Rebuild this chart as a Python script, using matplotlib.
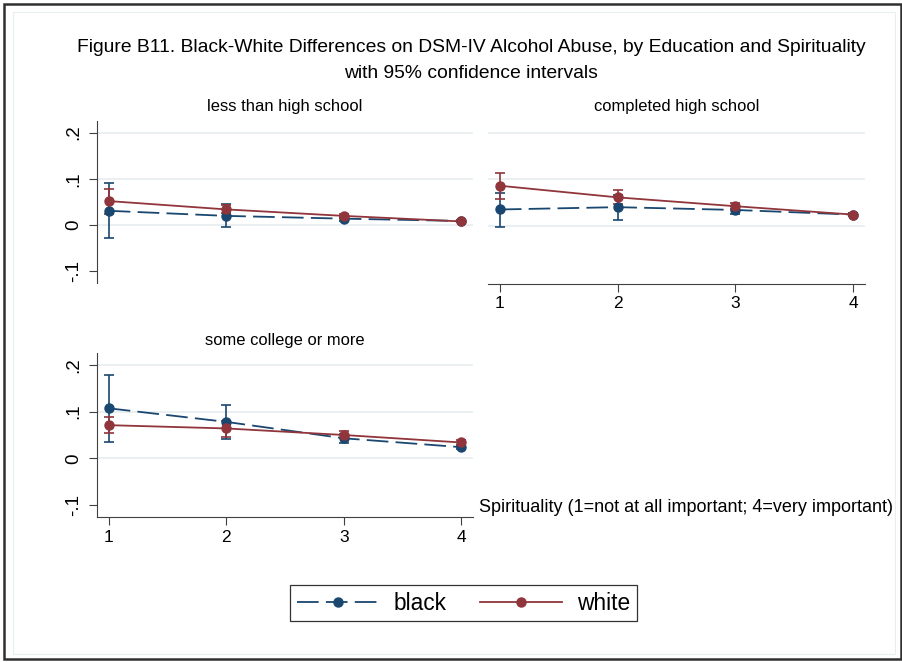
import matplotlib
matplotlib.use("Agg")
import matplotlib.pyplot as plt
from matplotlib.lines import Line2D
from matplotlib.patches import Rectangle
import numpy as np

plt.rcParams['font.family'] = ['Liberation Sans', 'DejaVu Sans']

spirit = [1, 2, 3, 4]
panels = ["less than high school", "completed high school", "some college or more"]

# point estimates and 95% CI bounds, per panel
black_est = [[0.031, 0.020, 0.014, 0.009],
             [0.035, 0.040, 0.034, 0.024],
             [0.107, 0.078, 0.043, 0.024]]
black_lo = [[-0.027, -0.004, 0.010, 0.006],
            [-0.002, 0.013, 0.026, 0.020],
            [0.036, 0.041, 0.033, 0.020]]
black_hi = [[0.090, 0.045, 0.018, 0.012],
            [0.071, 0.067, 0.042, 0.028],
            [0.177, 0.114, 0.053, 0.028]]
white_est = [[0.052, 0.034, 0.020, 0.008],
             [0.086, 0.061, 0.042, 0.024],
             [0.071, 0.064, 0.050, 0.034]]
white_lo = [[0.025, 0.027, 0.016, 0.006],
            [0.058, 0.047, 0.036, 0.021],
            [0.055, 0.046, 0.043, 0.028]]
white_hi = [[0.079, 0.043, 0.024, 0.010],
            [0.113, 0.076, 0.048, 0.027],
            [0.088, 0.080, 0.058, 0.040]]

yticks = [-0.1, 0, 0.1, 0.2]
ytick_labels = ["-.1", "0", ".1", ".2"]

NAVY = "#1a476f"
MAROON = "#90353b"
GRID = "#e6eef0"

W, H = 903, 662
fig = plt.figure(figsize=(W / 100, H / 100), dpi=100)


def px_axes(left, top, right, bottom):
    return fig.add_axes([left / W, 1 - bottom / H, (right - left) / W, (bottom - top) / H])


# outer frames
fig.add_artist(Rectangle((4 / W, 3 / H), 897 / W, 655 / H, transform=fig.transFigure,
                         fill=False, edgecolor="#303030", lw=1.8))
fig.add_artist(Rectangle((13 / W, 8 / H), 882 / W, 642 / H, transform=fig.transFigure,
                         fill=False, edgecolor="#e8eff1", lw=0.8))

boxes = [(97, 121, 473, 283), (488, 121, 865, 284), (97, 353, 473, 517)]
titles_y = [107, 107, 341]

for i, (l, t, r, b) in enumerate(boxes):
    ax = px_axes(l, t, r, b)
    ax.set_xlim(0.9, 4.1)
    ax.set_ylim(-0.125, 0.225)
    for s in ["top", "right"]:
        ax.spines[s].set_visible(False)
    ax.spines["left"].set_color("#404040")
    ax.spines["bottom"].set_color("#404040")
    for g in [0, 0.1, 0.2]:
        ax.axhline(g, color=GRID, lw=1.2, zorder=0)

    be = np.array(black_est[i])
    we = np.array(white_est[i])
    ax.errorbar(spirit, be,
                yerr=[be - np.array(black_lo[i]), np.array(black_hi[i]) - be],
                fmt="none", ecolor=NAVY, elinewidth=1.2, capsize=3.5, capthick=1.2, zorder=2)
    ax.errorbar(spirit, we,
                yerr=[we - np.array(white_lo[i]), np.array(white_hi[i]) - we],
                fmt="none", ecolor=MAROON, elinewidth=1.2, capsize=3.5, capthick=1.2, zorder=2)
    ax.plot(spirit, be, color=NAVY, lw=1.3, linestyle=(0, (12, 4)), marker="o",
            markersize=6.5, zorder=3)
    ax.plot(spirit, we, color=MAROON, lw=1.3, marker="o", markersize=6.5, zorder=4)

    ax.set_xticks(spirit)
    ax.set_xticklabels([str(s) for s in spirit], fontsize=12.5)
    ax.set_yticks(yticks)
    ax.set_yticklabels(ytick_labels, fontsize=13.5, rotation=90, va="center")
    ax.tick_params(axis="y", length=5.5, width=0.8, color="#404040", pad=5)
    ax.tick_params(axis="x", length=5.5, width=0.8, color="#404040", pad=3.5)

    if i == 0:
        ax.spines["bottom"].set_visible(False)
        ax.tick_params(axis="x", bottom=False, labelbottom=False)
    if i == 1:
        ax.spines["left"].set_visible(False)
        ax.tick_params(axis="y", left=False, labelleft=False)

    cx = (l + r) / 2
    fig.text(cx / W, 1 - titles_y[i] / H, panels[i], ha="center", va="center", fontsize=11.9)

fig.text(471 / W, 1 - 48 / H,
         "Figure B11. Black-White Differences on DSM-IV Alcohol Abuse, by Education and Spirituality",
         ha="center", va="center", fontsize=13.9)
fig.text(471 / W, 1 - 74 / H, "with 95% confidence intervals",
         ha="center", va="center", fontsize=13.9)

fig.text(479 / W, 1 - 507 / H, "Spirituality (1=not at all important; 4=very important)",
         ha="left", va="center", fontsize=13)

handles = [Line2D([], [], color=NAVY, lw=1.3, linestyle=(0, (12, 4)), marker="o", markersize=6.5),
           Line2D([], [], color=MAROON, lw=1.3, marker="o", markersize=6.5)]
leg = fig.legend(handles, ["black", "white"], loc="center", ncol=2,
                 bbox_to_anchor=(463.5 / W, 1 - 603 / H), fontsize=16.4, frameon=True,
                 fancybox=False, edgecolor="black", handlelength=3.6, columnspacing=1.45,
                 borderpad=0.3, handletextpad=0.66, borderaxespad=0)
leg.get_frame().set_linewidth(0.9)

fig.savefig("out.png", dpi=100)
